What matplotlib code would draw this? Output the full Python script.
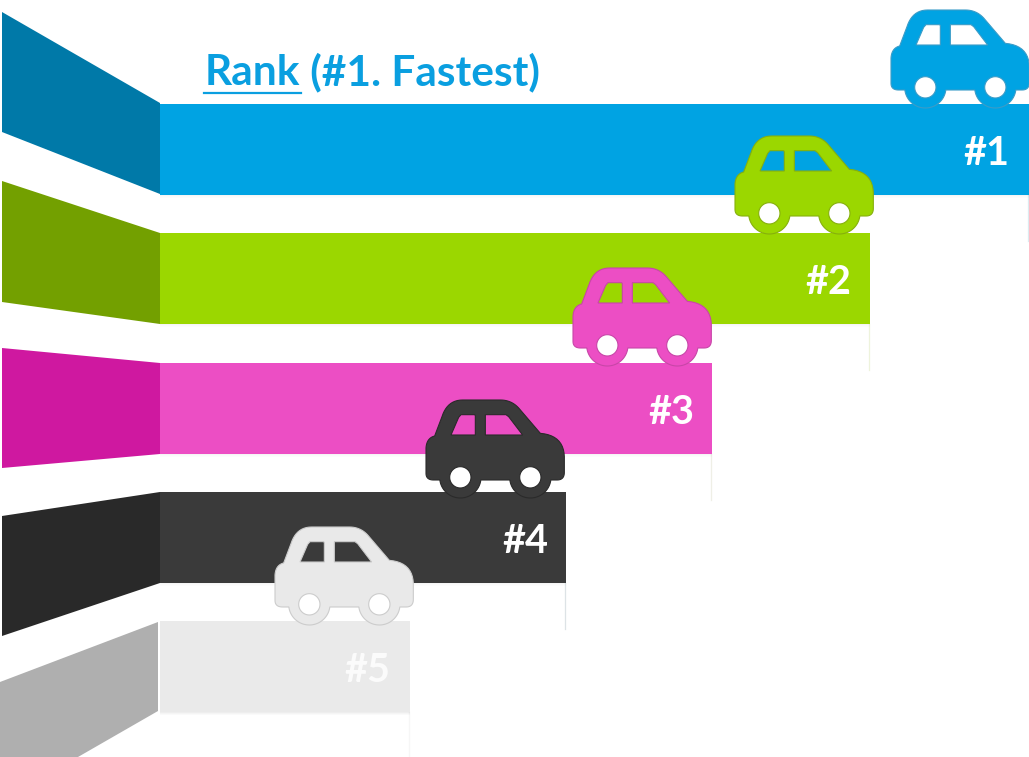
import numpy as np
import matplotlib
matplotlib.use("Agg")
import matplotlib.pyplot as plt
from matplotlib.path import Path
from matplotlib.patches import PathPatch, Polygon, Rectangle

# ---- data ----
labels = ["#1", "#2", "#3", "#4", "#5"]
bar_ends = [1029, 870, 712, 566, 410]
bar_tops = [104, 233, 363, 492, 621]
label_right = [1009, 851, 694, 548, 390]
bar_colors = ["#00A3E3", "#9BD700", "#EC4EC4", "#3A3A3A", "#EAEAEA"]
side_colors = ["#0079A8", "#73A000", "#CF18A0", "#292929", "#AFAFAF"]
car_edges = ["#3A9CC8", "#86B00C", "#C846A8", "#2A2A2A", "#CCCCCC"]
car_lefts = [891, 735, 573, 426, 275]
car_tops = [10, 136, 268, 400, 527]
label_colors = ["white", "white", "white", "white", "#FBFBFB"]
drop_colors = ["#DDEBF0", "#EEF3DC", "#EFEFE6", "#DDE3E6", "#F6F6F6"]
side_shapes = [
    [(2, 12), (160, 103), (160, 194), (2, 132)],
    [(2, 181), (160, 233), (160, 324), (2, 302)],
    [(2, 348), (160, 363), (160, 454), (2, 468)],
    [(2, 516), (160, 492), (160, 583), (2, 636)],
    [(0, 682), (158, 622), (158, 711), (78, 757), (0, 757)],
]
title_main = "Rank"
title_rest = " (#1. Fastest)"
BAR_H = 91


def qb(p0, c, p1, n=12):
    t = np.linspace(0, 1, n)[:, None]
    p0, c, p1 = map(np.array, (p0, c, p1))
    return (1 - t) ** 2 * p0 + 2 * (1 - t) * t * c + t ** 2 * p1


def arc(cx, cy, r, a0, a1, n=40):
    a = np.radians(np.linspace(a0, a1, n))
    return np.c_[cx + r * np.cos(a), cy + r * np.sin(a)]


def car_path(left, top):
    ox, oy, s = 32, 28, 1 / 3
    W1, W2, WY, RO, RI = 135, 345, 260, 62, 32
    outline = np.vstack([
        qb((32, 172), (34, 142), (58, 136)),
        [(80, 78)],
        qb((80, 78), (96, 28), (142, 28)),
        [(255, 28)],
        qb((255, 28), (288, 28), (310, 52)),
        [(375, 128)],
        qb((375, 128), (445, 134), (447, 198)),
        [(447, 245)],
        qb((447, 245), (447, 268), (425, 268)),
        arc(W2, WY, RO, 7.4, 172.6),
        arc(W1, WY, RO, 7.4, 172.6),
        qb((55, 268), (32, 268), (32, 248)),
    ])
    win1 = np.array([(107, 133), (130, 80), (137, 72), (178, 72), (180, 75), (180, 133)], float)
    win2 = np.array([(210, 72), (272, 72), (280, 78), (322, 133), (210, 133)], float)
    holes = [win1, win2, arc(W1, WY, RI, 360, 0), arc(W2, WY, RI, 360, 0)]

    def area(p):
        x, y = p[:, 0], p[:, 1]
        return 0.5 * np.sum(x * np.roll(y, -1) - y * np.roll(x, -1))

    parts = []
    for p, positive in [(outline, True)] + [(h, False) for h in holes]:
        if (area(p) > 0) != positive:
            p = p[::-1]
        q = (p - [ox, oy]) * s + [left, top]
        parts.append(Path(np.vstack([q, q[:1]]), closed=True))
    return Path.make_compound_path(*parts)


fig = plt.figure(figsize=(10.29, 7.57), dpi=100, facecolor="white")
ax = fig.add_axes([0, 0, 1, 1])
ax.set_xlim(0, 1029)
ax.set_ylim(757, 0)
ax.axis("off")

for i, lab in enumerate(labels):
    end, top = bar_ends[i], bar_tops[i]
    ax.plot([end - 1, end - 1], [top + BAR_H, top + BAR_H + 46], color=drop_colors[i], lw=0.9, zorder=1)
    alphas = [0.13, 0.08, 0.04] if i == 4 else [0.08, 0.04, 0.02]
    for k, a in enumerate(alphas):
        ax.add_patch(Rectangle((160, top + BAR_H + k), end - 160, 1.2, fc="#808080", ec="none", alpha=a, zorder=1))
    ax.add_patch(Polygon(side_shapes[i], closed=True, fc=side_colors[i], ec="none", zorder=2))
    ax.barh(top + BAR_H / 2, end - 160, left=160, height=BAR_H, color=bar_colors[i], zorder=2)

for i, lab in enumerate(labels):
    end, top = bar_ends[i], bar_tops[i]
    ax.add_patch(PathPatch(car_path(car_lefts[i], car_tops[i]), fc=bar_colors[i] if i != 4 else "#E9E9E9",
                           ec=car_edges[i], lw=0.8, zorder=3))
    ax.text(label_right[i], top + BAR_H / 2 + 4, lab, ha="right", va="center", color=label_colors[i],
            family="Lato", weight="bold", fontsize=28.5, zorder=4)

t = ax.text(205, 85, title_main, family="Lato", weight="bold", fontsize=30.5, color="#0A9FE0", ha="left", va="baseline", zorder=4)
fig.canvas.draw()
bb = t.get_window_extent()
ax.plot([204, 301], [93, 93], color="#0A9FE0", lw=1.6, zorder=4)
ax.text(bb.x1, 85, title_rest, family="Lato", weight="bold", fontsize=30.5, color="#0A9FE0", ha="left", va="baseline", zorder=4)

fig.savefig("out.png", dpi=100)
